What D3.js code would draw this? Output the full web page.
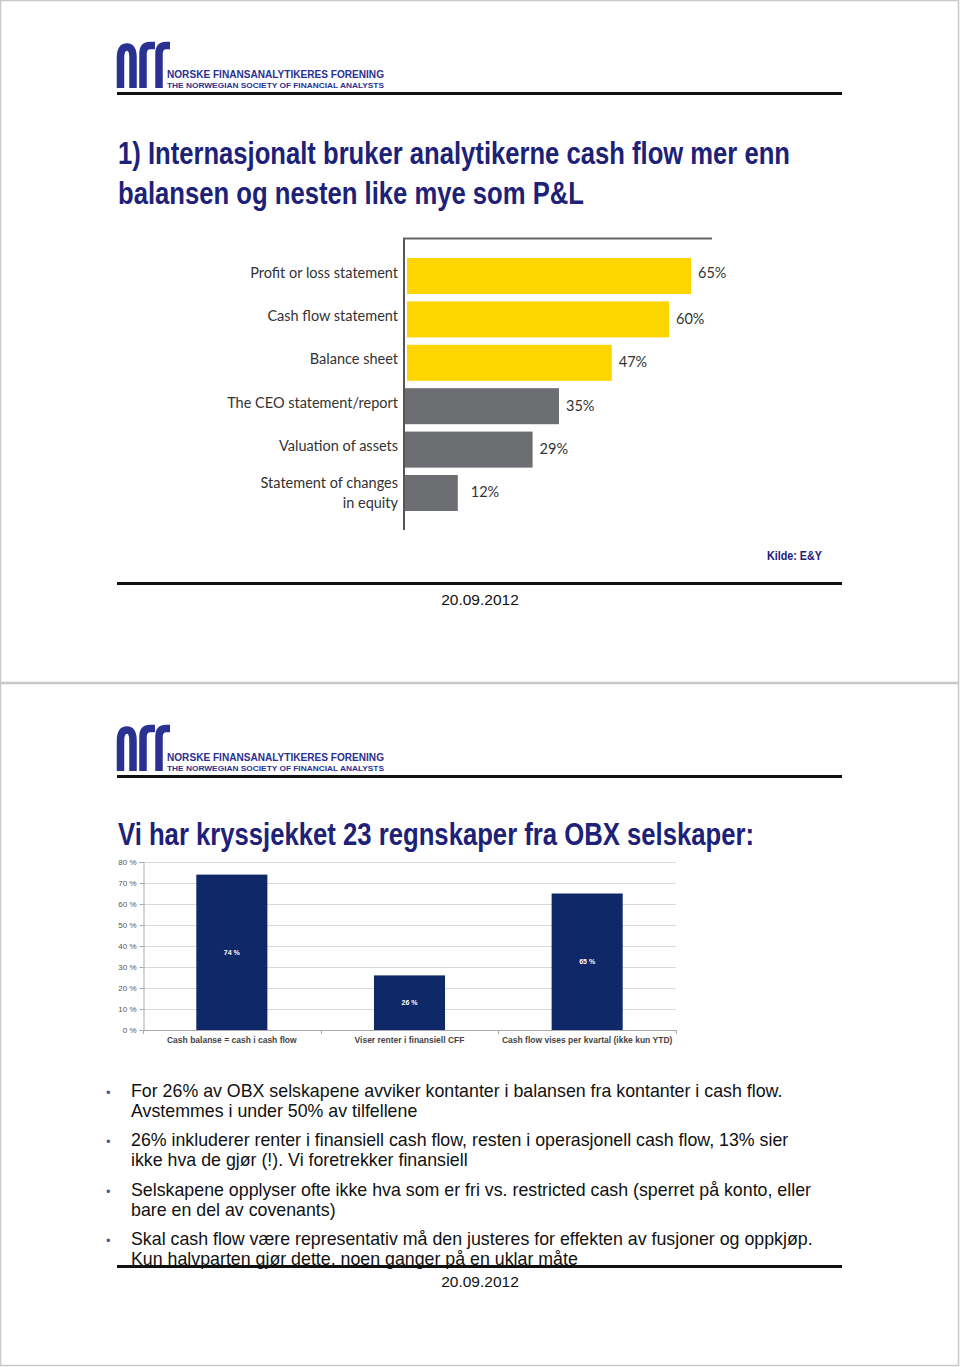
<!DOCTYPE html>
<html><head><meta charset="utf-8">
<script src="https://cdn.jsdelivr.net/npm/d3@7"></script>
<style>
html,body{margin:0;padding:0;background:#fff;}
svg{display:block;}
</style></head>
<body>
<script>
// ---------- DATA ----------
const topCategories = ["Profit or loss statement","Cash flow statement","Balance sheet","The CEO statement/report","Valuation of assets","Statement of changes|in equity"];
const topValues = [65,60,47,35,29,12];
const topGroup = ["hi","hi","hi","lo","lo","lo"];

const bottomCategories = ["Cash balanse = cash i cash flow","Viser renter i finansiell CFF","Cash flow vises per kvartal (ikke kun YTD)"];
const bottomValues = [74,26,65];
const bottomTicks = [0,10,20,30,40,50,60,70,80];

const title1Lines = ["1) Internasjonalt bruker analytikerne cash flow mer enn","balansen og nesten like mye som P&L"];
const title1Widths = [672,466];
const title2 = "Vi har kryssjekket 23 regnskaper fra OBX selskaper:";
const title2Width = 636;
const sourceText = "Kilde: E&Y";
const dateText = "20.09.2012";
const bullets = [
 ["For 26% av OBX selskapene avviker kontanter i balansen fra kontanter i cash flow.","Avstemmes i under 50% av tilfellene"],
 ["26% inkluderer renter i finansiell cash flow, resten i operasjonell cash flow, 13% sier","ikke hva de gjør (!). Vi foretrekker finansiell"],
 ["Selskapene opplyser ofte ikke hva som er fri vs. restricted cash (sperret på konto, eller","bare en del av covenants)"],
 ["Skal cash flow være representativ må den justeres for effekten av fusjoner og oppkjøp.","Kun halvparten gjør dette, noen ganger på en uklar måte"]
];

// ---------- DRAW ----------
const W = 960, H = 1367;
const svg = d3.select("body").append("svg").attr("width", W).attr("height", H);
const NAVY = "#2b3190", TITLE = "#1d2178";
const sans = "'Liberation Sans',Arial,Helvetica,sans-serif";
const eyFont = "Lato,'Open Sans',sans-serif";

// slide frames
svg.append("rect").attr("x",0.5).attr("y",0.5).attr("width",958).attr("height",682).attr("fill","#fff").attr("stroke","#c8c8c8").attr("stroke-width",1.5);
svg.append("rect").attr("x",0.5).attr("y",683.5).attr("width",958).attr("height",682).attr("fill","#fff").attr("stroke","#c8c8c8").attr("stroke-width",1.5);

function header(g){
  const lg = g.append("g").attr("fill","none").attr("stroke",NAVY).attr("stroke-width",7.5);
  lg.append("path").attr("d","M120.5,88 V58 Q120.5,47 127,47 Q133,47 133,58 V88");
  lg.append("path").attr("d","M143,88 V54 Q143,45.5 150,45.5 H155");
  lg.append("path").attr("d","M159,88 V54 Q159,45.5 166,45.5 H170");
  g.append("text").attr("x",167).attr("y",78).attr("font-family",sans).attr("font-weight","bold")
    .attr("font-size",10.5).attr("fill",NAVY).attr("textLength",217).attr("lengthAdjust","spacingAndGlyphs")
    .text("NORSKE FINANSANALYTIKERES FORENING");
  g.append("text").attr("x",167).attr("y",88).attr("font-family",sans).attr("font-weight","bold")
    .attr("font-size",8).attr("fill",NAVY).attr("textLength",217).attr("lengthAdjust","spacingAndGlyphs")
    .text("THE NORWEGIAN SOCIETY OF FINANCIAL ANALYSTS");
  g.append("line").attr("x1",117).attr("x2",842).attr("y1",93.5).attr("y2",93.5).attr("stroke","#111").attr("stroke-width",3);
}

// ===== Slide 1 =====
const s1 = svg.append("g");
header(s1);
s1.selectAll("text.t1").data(title1Lines).join("text").attr("class","t1")
  .attr("x",118).attr("y",(d,i)=>164+i*40)
  .attr("font-family",sans).attr("font-weight","bold").attr("font-size",30.5).attr("fill",TITLE)
  .attr("textLength",(d,i)=>title1Widths[i]).attr("lengthAdjust","spacingAndGlyphs")
  .text(d=>d);

const xTop = d3.scaleLinear().domain([0,100]).range([405,845]);
const yTop = d3.scaleBand().domain(topCategories).range([258,511]).paddingInner(0.17).paddingOuter(0);
const colorTop = d3.scaleOrdinal().domain(["hi","lo"]).range(["#ffd500","#6d6e71"]);

const c1 = s1.append("g");
c1.selectAll("rect.bar").data(topValues).join("rect").attr("class","bar")
  .attr("x",(d,i)=> topGroup[i]==="hi" ? xTop(0)+2 : xTop(0))
  .attr("y",(d,i)=>yTop(topCategories[i]))
  .attr("width",(d,i)=> xTop(d) - (topGroup[i]==="hi" ? xTop(0)+2 : xTop(0)))
  .attr("height",yTop.bandwidth())
  .attr("fill",(d,i)=>colorTop(topGroup[i]));
c1.append("line").attr("x1",404).attr("x2",404).attr("y1",238).attr("y2",530).attr("stroke","#555").attr("stroke-width",2);
c1.append("line").attr("x1",403).attr("x2",712).attr("y1",238.5).attr("y2",238.5).attr("stroke","#666").attr("stroke-width",2);
c1.selectAll("text.cat").data(topCategories).join("text").attr("class","cat")
  .attr("text-anchor","end").attr("font-family",eyFont).attr("font-size",14.5).attr("fill","#333")
  .each(function(d){
    const lines = d.split("|");
    const cy = yTop(d)+yTop.bandwidth()/2;
    const off = lines.length>1 ? 5 : 1.5;
    const t = d3.select(this);
    lines.forEach((l,k)=>{
      t.append("tspan").attr("x",398).attr("y", cy + (k-(lines.length-1)/2)*20 + off).text(l);
    });
  });
c1.selectAll("text.val").data(topValues).join("text").attr("class","val")
  .attr("x",d=>xTop(d)+ (d<20?13:7)).attr("y",(d,i)=>yTop(topCategories[i])+yTop.bandwidth()/2+(i===0?1.5:4.5))
  .attr("font-family",eyFont).attr("font-size",14.5).attr("fill","#333")
  .text(d=>d+"%");

s1.append("text").attr("x",822).attr("y",560).attr("text-anchor","end").attr("font-family",sans)
  .attr("font-weight","bold").attr("font-size",13).attr("fill",TITLE)
  .attr("textLength",55).attr("lengthAdjust","spacingAndGlyphs").text(sourceText);
s1.append("line").attr("x1",117).attr("x2",842).attr("y1",583.5).attr("y2",583.5).attr("stroke","#111").attr("stroke-width",3);
s1.append("text").attr("x",480).attr("y",605).attr("text-anchor","middle").attr("font-family",sans)
  .attr("font-size",15.5).attr("fill","#111").text(dateText);

// ===== Slide 2 =====
const s2 = svg.append("g").attr("transform","translate(0,683)");
header(s2);
s2.append("text").attr("x",118).attr("y",162).attr("font-family",sans).attr("font-weight","bold")
  .attr("font-size",30.5).attr("fill",TITLE)
  .attr("textLength",title2Width).attr("lengthAdjust","spacingAndGlyphs").text(title2);

const yB = d3.scaleLinear().domain([0,80]).range([1030,862]);
const xB = d3.scaleBand().domain(bottomCategories).range([143,676]).paddingInner(0.6).paddingOuter(0.3);
const c2 = svg.append("g");
c2.selectAll("line.grid").data(bottomTicks.filter(t=>t>0)).join("line").attr("class","grid")
  .attr("x1",143).attr("x2",676).attr("y1",d=>Math.round(yB(d))+0.5).attr("y2",d=>Math.round(yB(d))+0.5)
  .attr("stroke","#d9d9d9").attr("stroke-width",1);
const yAxis = d3.axisLeft(yB).tickValues(bottomTicks).tickSize(4).tickFormat(d=>d+" %");
const ga = c2.append("g").attr("transform","translate(143.5,0)").call(yAxis);
ga.select(".domain").attr("stroke","#aaa");
ga.selectAll(".tick line").attr("stroke","#aaa");
ga.selectAll(".tick text").attr("font-family",sans).attr("font-size",8).attr("fill","#555").attr("x",-7);
const gb = c2.append("g");
gb.append("line").attr("x1",143).attr("x2",676).attr("y1",1030.5).attr("y2",1030.5).attr("stroke","#aaa");
const bounds = bottomCategories.map(c=>xB(c)-xB.step()*xB.paddingInner()/2).concat([676]);
bounds[0] = 143;
gb.selectAll("line.bt").data(bounds).join("line").attr("class","bt")
  .attr("x1",d=>Math.round(d)+0.5).attr("x2",d=>Math.round(d)+0.5).attr("y1",1030).attr("y2",1034).attr("stroke","#aaa");
c2.selectAll("rect.bbar").data(bottomValues).join("rect").attr("class","bbar")
  .attr("x",(d,i)=>xB(bottomCategories[i])).attr("width",xB.bandwidth())
  .attr("y",d=>yB(d)).attr("height",d=>yB(0)-yB(d)).attr("fill","#0f2868");
c2.selectAll("text.bval").data(bottomValues).join("text").attr("class","bval")
  .attr("x",(d,i)=>xB(bottomCategories[i])+xB.bandwidth()/2).attr("y",d=>(yB(d)+yB(0))/2+2.5)
  .attr("text-anchor","middle").attr("font-family",sans).attr("font-weight","bold").attr("font-size",7)
  .attr("fill","#fff").text(d=>d+" %");
c2.selectAll("text.bcat").data(bottomCategories).join("text").attr("class","bcat")
  .attr("x",d=>xB(d)+xB.bandwidth()/2).attr("y",1043).attr("text-anchor","middle")
  .attr("font-family",sans).attr("font-weight","bold").attr("font-size",8.5).attr("fill","#444").text(d=>d);

// bullets
const bl = svg.append("g");
const bulletY = [1097,1146,1196,1245];
bullets.forEach((b,i)=>{
  bl.append("text").attr("x",106).attr("y",bulletY[i]).attr("font-family",sans).attr("font-size",13)
    .attr("fill","#4a5a8c").text("•");
  b.forEach((line,k)=>{
    bl.append("text").attr("x",131).attr("y",bulletY[i]+k*19.5).attr("font-family",sans)
      .attr("font-size",17.8).attr("fill","#111").text(line);
  });
});
svg.append("line").attr("x1",117).attr("x2",842).attr("y1",1266.5).attr("y2",1266.5).attr("stroke","#111").attr("stroke-width",3);
svg.append("text").attr("x",480).attr("y",1287).attr("text-anchor","middle").attr("font-family",sans)
  .attr("font-size",15.5).attr("fill","#111").text(dateText);
</script>
</body></html>
